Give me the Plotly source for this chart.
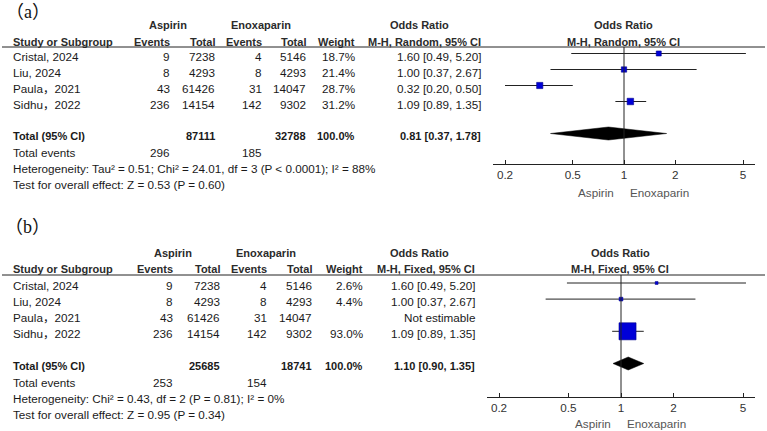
import math
import plotly.graph_objects as go

W, H = 767, 431

# ---------------- data ----------------
studies = ["Cristal, 2024", "Liu, 2024", "Paula，2021", "Sidhu，2022"]
asp_events = [9, 8, 43, 236]
asp_total = [7238, 4293, 61426, 14154]
enox_events = [4, 8, 31, 142]
enox_total = [5146, 4293, 14047, 9302]

# panel (a): random effects
a_weight = [18.7, 21.4, 28.7, 31.2]
a_or = [1.60, 1.00, 0.32, 1.09]
a_lo = [0.49, 0.37, 0.20, 0.89]
a_hi = [5.20, 2.67, 0.50, 1.35]
a_totals = [87111, 32788]
a_total_events = [296, 185]
a_pooled = [0.81, 0.37, 1.78]
a_het = "Heterogeneity: Tau² = 0.51; Chi² = 24.01, df = 3 (P &lt; 0.0001); I² = 88%"
a_test = "Test for overall effect: Z = 0.53 (P = 0.60)"

# panel (b): fixed effects (Paula not estimable)
b_weight = [2.6, 4.4, None, 93.0]
b_or = [1.60, 1.00, None, 1.09]
b_lo = [0.49, 0.37, None, 0.89]
b_hi = [5.20, 2.67, None, 1.35]
b_totals = [25685, 18741]
b_total_events = [253, 154]
b_pooled = [1.10, 0.90, 1.35]
b_het = "Heterogeneity: Chi² = 0.43, df = 2 (P = 0.81); I² = 0%"
b_test = "Test for overall effect: Z = 0.95 (P = 0.34)"

tick_vals = [0.2, 0.5, 1, 2, 5]
tick_text = ["0.2", "0.5", "1", "2", "5"]

FONT = "Liberation Sans, Arial, Noto Sans CJK SC, sans-serif"
TXT = "#1a1a1a"
HDR = "#2b2b2b"
BLUE = "#0000D8"
BODY = 11.7
BOLD = 11.0

fig = go.Figure()


def px(x):
    return x / W


def py(y):
    return 1 - y / H


def txt(x, y, s, anchor="right", bold=False, size=None, color=TXT, family=FONT):
    if size is None:
        size = BOLD if bold else BODY
    fig.add_annotation(
        x=px(x), y=py(y), xref="paper", yref="paper",
        text=("<b>%s</b>" % s) if bold else s,
        showarrow=False, xanchor=anchor, yanchor="middle",
        borderpad=0, font=dict(family=family, size=size, color=color),
    )


panels = [
    dict(label="（a）", label_y=12, hdr1=25, hdr2=42, line_y=47, row0=56.5, step=16.0,
         cols=(171, 216, 263, 307, 356, 482), asp_c=168, enox_c=261, or_c=419,
         dom=(493, 755), x02=505, x5=743, ax_y=164, plot_c=623, moff=-3.0,
         ttl_y=192, asp_r=615, enox_l=629, scale=1.16, method="M-H, Random, 95% CI",
         weight=a_weight, orv=a_or, lo=a_lo, hi=a_hi, totals=a_totals,
         tev=a_total_events, pooled=a_pooled, het=a_het, test=a_test),
    dict(label="（b）", label_y=227, hdr1=253, hdr2=269, line_y=275, row0=285.5, step=16.1,
         cols=(174, 221, 268, 313, 364, 476), asp_c=173, enox_c=266, or_c=419,
         dom=(487, 755), x02=499, x5=743, ax_y=397, plot_c=620, moff=-2.5,
         ttl_y=423, asp_r=612, enox_l=626, scale=1.77, method="M-H, Fixed, 95% CI",
         weight=b_weight, orv=b_or, lo=b_lo, hi=b_hi, totals=b_totals,
         tev=b_total_events, pooled=b_pooled, het=b_het, test=b_test),
]

layout_axes = {}
for i, p in enumerate(panels):
    n = "" if i == 0 else str(i + 1)
    xa, ya = "x" + n, "y" + n
    ev, tot, eev, etot, wt, ci = p["cols"]

    def rowy(r, p=p):
        return p["row0"] + (r - 1) * p["step"]

    # label
    txt(28, p["label_y"], p["label"], anchor="center", size=18,
        family="Liberation Serif, Noto Sans CJK SC, serif", color="#111")
    # headers
    txt(p["asp_c"], p["hdr1"], "Aspirin", anchor="center", bold=True, color=HDR)
    txt(p["enox_c"], p["hdr1"], "Enoxaparin", anchor="center", bold=True, color=HDR)
    txt(p["or_c"], p["hdr1"], "Odds Ratio", anchor="center", bold=True, color=HDR)
    txt(p["plot_c"], p["hdr1"], "Odds Ratio", anchor="center", bold=True, color=HDR)
    txt(12, p["hdr2"], "Study or Subgroup", anchor="left", bold=True, color=HDR)
    for x, s in [(ev, "Events"), (tot, "Total"), (eev, "Events"), (etot, "Total"),
                 (wt, "Weight"), (ci, p["method"])]:
        txt(x, p["hdr2"], s, bold=True, color=HDR)
    txt(p["plot_c"], p["hdr2"], p["method"], anchor="center", bold=True, color=HDR)
    fig.add_shape(type="line", xref="paper", yref="paper", x0=px(2), x1=px(765),
                  y0=py(p["line_y"]), y1=py(p["line_y"]), line=dict(color="#222", width=1))

    # study rows
    for k, s in enumerate(studies):
        y = rowy(k + 1)
        txt(12, y, s, anchor="left")
        txt(ev, y, str(asp_events[k]))
        txt(tot, y, str(asp_total[k]))
        txt(eev, y, str(enox_events[k]))
        txt(etot, y, str(enox_total[k]))
        if p["weight"][k] is not None:
            txt(wt, y, "%.1f%%" % p["weight"][k])
            txt(ci, y, "%.2f [%.2f, %.2f]" % (p["orv"][k], p["lo"][k], p["hi"][k]))
        else:
            txt(ci, y, "Not estimable")

    # total rows
    y6 = rowy(6)
    txt(12, y6, "Total (95% CI)", anchor="left", bold=True)
    txt(tot, y6, str(p["totals"][0]), bold=True)
    txt(etot, y6, str(p["totals"][1]), bold=True)
    txt(wt, y6, "100.0%", bold=True)
    txt(ci, y6, "%.2f [%.2f, %.2f]" % tuple(p["pooled"]), bold=True)
    txt(12, rowy(7), "Total events", anchor="left")
    txt(ev, rowy(7), str(p["tev"][0]))
    txt(eev, rowy(7), str(p["tev"][1]))
    txt(12, rowy(8), p["het"], anchor="left")
    txt(12, rowy(9), p["test"], anchor="left")

    # plot axes geometry
    ppd = (p["x5"] - p["x02"]) / (math.log10(5) - math.log10(0.2))
    r_lo = math.log10(0.2) - (p["x02"] - p["dom"][0]) / ppd
    r_hi = math.log10(5) + (p["dom"][1] - p["x5"]) / ppd
    top_px = p["row0"] + p["moff"]

    def px2row(pp, p=p, top_px=top_px):
        return 1 + (pp - top_px) / p["step"]

    layout_axes["xaxis" + n] = dict(
        type="log", domain=[px(p["dom"][0]), px(p["dom"][1])], range=[r_lo, r_hi],
        anchor=ya, tickvals=tick_vals, ticktext=tick_text, showline=True,
        linecolor="#222", linewidth=1, ticks="inside", ticklen=4, tickcolor="#222",
        showgrid=False, zeroline=False, tickfont=dict(family=FONT, size=BODY, color="#333"),
        fixedrange=True,
    )
    layout_axes["yaxis" + n] = dict(
        domain=[py(p["ax_y"]), py(p["line_y"])],
        range=[px2row(p["ax_y"]), px2row(p["line_y"])],
        anchor=xa, visible=False, fixedrange=True,
    )

    # vertical line of no effect
    fig.add_shape(type="line", xref=xa, yref=ya + " domain", x0=1, x1=1, y0=0, y1=1,
                  line=dict(color="#222", width=1))

    # CI lines
    lx, ly = [], []
    for k in range(len(studies)):
        if p["orv"][k] is None:
            continue
        lx += [p["lo"][k], p["hi"][k], None]
        ly += [k + 1, k + 1, None]
    fig.add_trace(go.Scatter(x=lx, y=ly, xaxis=xa, yaxis=ya, mode="lines",
                             line=dict(color="#222", width=1), hoverinfo="skip",
                             showlegend=False, cliponaxis=False))
    # squares
    mx, my, ms = [], [], []
    for k in range(len(studies)):
        if p["orv"][k] is None:
            continue
        mx.append(p["orv"][k])
        my.append(k + 1)
        ms.append(p["scale"] * math.sqrt(p["weight"][k]))
    fig.add_trace(go.Scatter(x=mx, y=my, xaxis=xa, yaxis=ya, mode="markers",
                             marker=dict(symbol="square", size=ms, color=BLUE, opacity=1,
                                         line=dict(width=0.6, color="#00008B")),
                             showlegend=False, cliponaxis=False))
    # pooled diamond
    pe, plo, phi = p["pooled"]
    hh = 6.5 / p["step"]
    fig.add_trace(go.Scatter(x=[plo, pe, phi, pe, plo], y=[6, 6 - hh, 6, 6 + hh, 6],
                             xaxis=xa, yaxis=ya, mode="lines", fill="toself",
                             fillcolor="black", line=dict(color="black", width=0.5),
                             showlegend=False, hoverinfo="skip"))

    # axis captions
    txt(p["asp_r"], p["ttl_y"], "Aspirin", anchor="right", color="#555")
    txt(p["enox_l"], p["ttl_y"], "Enoxaparin", anchor="left", color="#555")

fig.update_layout(
    width=W, height=H, margin=dict(l=0, r=0, t=0, b=0),
    paper_bgcolor="white", plot_bgcolor="white", showlegend=False,
    **layout_axes,
)

fig.write_html("out.html")
